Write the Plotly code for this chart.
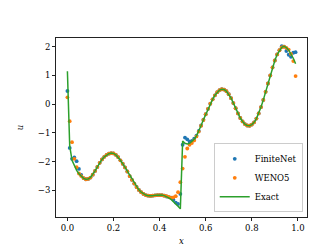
import plotly.graph_objects as go

x_vals = [round(i * 0.01, 2) for i in range(100)]

exact = [
    1.15, -1.45, -1.95, -2.15, -2.30, -2.42, -2.52, -2.58, -2.61, -2.60,
    -2.55, -2.45, -2.32, -2.18, -2.04, -1.92, -1.83, -1.76, -1.72, -1.70,
    -1.71, -1.76, -1.84, -1.95, -2.07, -2.20, -2.34, -2.50, -2.63, -2.76,
    -2.88, -2.98, -3.06, -3.12, -3.16, -3.18, -3.19, -3.18, -3.17, -3.16,
    -3.16, -3.16, -3.18, -3.21, -3.26, -3.31, -3.38, -3.46, -3.55, -3.64,
    -1.28, -1.36, -1.38, -1.36, -1.30, -1.22, -1.10, -0.94, -0.74, -0.54,
    -0.35, -0.16, 0.02, 0.17, 0.31, 0.42, 0.49, 0.52, 0.51, 0.45,
    0.35, 0.21, 0.04, -0.14, -0.32, -0.48, -0.60, -0.69, -0.74, -0.75,
    -0.71, -0.63, -0.50, -0.32, -0.10, 0.15, 0.43, 0.72, 1.00, 1.28,
    1.52, 1.73, 1.88, 1.98, 2.01, 1.97, 1.88, 1.76, 1.60, 1.41,
]

finitenet = [
    0.46, -1.52, -1.90, -1.85, -1.98, -2.25, -2.46, -2.57, -2.61, -2.60,
    -2.55, -2.45, -2.32, -2.18, -2.04, -1.92, -1.83, -1.76, -1.72, -1.70,
    -1.71, -1.76, -1.84, -1.95, -2.07, -2.20, -2.34, -2.50, -2.63, -2.76,
    -2.88, -2.98, -3.06, -3.12, -3.16, -3.18, -3.19, -3.18, -3.17, -3.16,
    -3.16, -3.16, -3.18, -3.21, -3.23, -3.25, -3.32, -3.42, -3.47, -3.12,
    -1.41, -1.16, -1.22, -1.30, -1.28, -1.20, -1.09, -0.93, -0.74, -0.54,
    -0.35, -0.16, 0.02, 0.17, 0.31, 0.42, 0.49, 0.52, 0.51, 0.45,
    0.35, 0.21, 0.04, -0.14, -0.32, -0.48, -0.60, -0.69, -0.74, -0.75,
    -0.71, -0.63, -0.50, -0.32, -0.10, 0.15, 0.43, 0.72, 1.00, 1.28,
    1.52, 1.73, 1.88, 2.02, 2.00, 1.85, 1.72, 1.65, 1.79, 1.81,
]

weno5 = [
    0.24, -0.59, -1.32, -1.90, -2.19, -2.41, -2.50, -2.57, -2.61, -2.60,
    -2.55, -2.45, -2.32, -2.18, -2.04, -1.92, -1.83, -1.76, -1.72, -1.70,
    -1.71, -1.76, -1.84, -1.95, -2.07, -2.20, -2.34, -2.50, -2.63, -2.76,
    -2.88, -2.98, -3.06, -3.12, -3.16, -3.18, -3.19, -3.18, -3.17, -3.16,
    -3.16, -3.16, -3.18, -3.20, -3.22, -3.26, -3.24, -3.20, -3.06, -2.71,
    -2.24, -1.83, -1.54, -1.41, -1.35, -1.26, -1.12, -0.95, -0.75, -0.55,
    -0.35, -0.16, 0.02, 0.17, 0.31, 0.42, 0.49, 0.52, 0.51, 0.45,
    0.35, 0.21, 0.04, -0.14, -0.32, -0.48, -0.60, -0.69, -0.74, -0.75,
    -0.71, -0.63, -0.50, -0.32, -0.10, 0.15, 0.43, 0.72, 1.00, 1.28,
    1.52, 1.73, 1.88, 1.98, 2.00, 1.96, 1.90, 1.75, 1.50, 0.98,
]

x_ticks = [0.0, 0.2, 0.4, 0.6, 0.8, 1.0]
x_ticklabels = ["0.0", "0.2", "0.4", "0.6", "0.8", "1.0"]
y_ticks = [-3, -2, -1, 0, 1, 2]
y_ticklabels = ["\u22123", "\u22122", "\u22121", "0", "1", "2"]

FONT = "DejaVu Serif"

fig = go.Figure()
fig.add_trace(go.Scatter(x=x_vals, y=finitenet, mode="markers", name="FiniteNet",
                         marker=dict(color="#1f77b4", size=3.8, line=dict(width=0))))
fig.add_trace(go.Scatter(x=x_vals, y=weno5, mode="markers", name="WENO5",
                         marker=dict(color="#ff7f0e", size=3.8, line=dict(width=0))))
fig.add_trace(go.Scatter(x=x_vals, y=exact, mode="lines", name="Exact",
                         line=dict(color="#2ca02c", width=1.5)))

all_y = exact + finitenet + weno5
ymin, ymax = min(all_y), max(all_y)
ym = 0.05 * (ymax - ymin)
xmin, xmax = min(x_vals), max(x_vals)
xm = 0.05 * (xmax - xmin)

axis_common = dict(showgrid=False, zeroline=False, showline=True, linecolor="#222",
                   linewidth=0.9, mirror=True, ticks="outside", ticklen=3,
                   tickwidth=0.8, tickcolor="#222",
                   tickfont=dict(family=FONT, size=8.5, color="black"))

fig.update_xaxes(range=[xmin - xm, xmax + xm], tickvals=x_ticks, ticktext=x_ticklabels,
                 title=dict(text="<i>x</i>", font=dict(family=FONT, size=8.5, color="black"),
                            standoff=5),
                 **axis_common)
fig.update_yaxes(range=[ymin - ym, ymax + ym], tickvals=y_ticks, ticktext=y_ticklabels,
                 title=dict(text="<i>u</i>", font=dict(family=FONT, size=8.5, color="black"),
                            standoff=12),
                 **axis_common)

fig.update_layout(
    width=332, height=248,
    margin=dict(l=41, r=33, t=30, b=27),
    paper_bgcolor="white", plot_bgcolor="white",
    showlegend=True,
    legend=dict(x=0.983, y=0.026, xanchor="right", yanchor="bottom",
                bgcolor="rgba(255,255,255,0.8)", bordercolor="#cccccc", borderwidth=1,
                font=dict(family=FONT, size=8.5, color="black"),
                itemwidth=30, tracegroupgap=0),
    font=dict(family=FONT, size=8.5, color="black"),
)

fig.write_html("out.html")
